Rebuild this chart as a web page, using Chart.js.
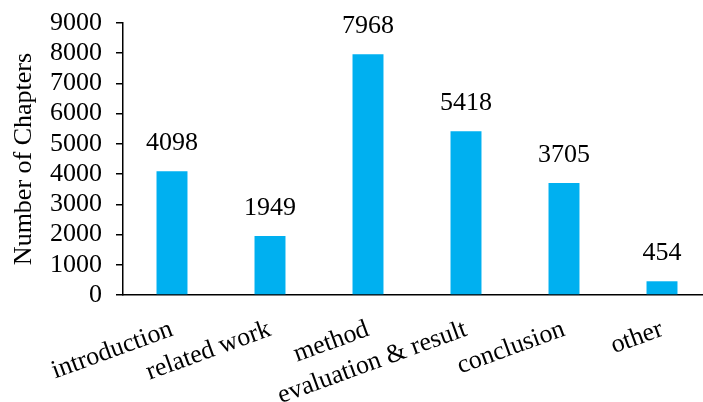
<!DOCTYPE html>
<html>
<head>
<meta charset="utf-8">
<script src="https://cdn.jsdelivr.net/npm/chart.js@4"></script>
<style>
  html, body { margin: 0; padding: 0; background: #fff; overflow: hidden; }
  #wrap { width: 711px; height: 402px; }
</style>
</head>
<body>
<div id="wrap"><canvas id="chapterChart"></canvas></div>
<script>
const categories = ['introduction', 'related work', 'method', 'evaluation & result', 'conclusion', 'other'];
const chapterCounts = [4098, 1949, 7968, 5418, 3705, 454];
const yTicks = [0, 1000, 2000, 3000, 4000, 5000, 6000, 7000, 8000, 9000];

const serif = "'Liberation Serif', 'Times New Roman', serif";

// draws the number above each bar
const valueLabels = {
    id: 'valueLabels',
    afterDatasetsDraw(chart) {
        const ctx = chart.ctx;
        const meta = chart.getDatasetMeta(0);
        ctx.save();
        ctx.font = '26px ' + serif;
        ctx.fillStyle = '#000';
        ctx.textAlign = 'center';
        ctx.textBaseline = 'alphabetic';
        meta.data.forEach((bar, i) => {
            ctx.fillText(String(chapterCounts[i]), bar.x, bar.y - 21);
        });
        ctx.restore();
    }
};

const ctx = document.getElementById('chapterChart').getContext('2d');
const chapterChart = new Chart(ctx, {
    type: 'bar',
    data: {
        labels: categories,
        datasets: [{
            data: chapterCounts,
            backgroundColor: '#00b0f0',
            barPercentage: 0.316,
            categoryPercentage: 1
        }]
    },
    options: {
        responsive: true,
        maintainAspectRatio: false,
        animation: false,
        layout: { padding: { top: 23, right: 0, left: 0, bottom: 0 } },
        plugins: {
            legend: { display: false },
            tooltip: { enabled: false }
        },
        scales: {
            x: {
                grid: { display: false },
                border: { display: true, color: '#000', width: 1.5 },
                ticks: {
                    color: '#000',
                    font: { family: serif, size: 26 },
                    minRotation: 20,
                    maxRotation: 20,
                    autoSkip: false,
                    padding: 11
                },
                afterFit(scale) { scale.height = 107; }
            },
            y: {
                min: 0,
                max: 9000,
                afterBuildTicks(scale) { scale.ticks = yTicks.map(v => ({ value: v })); },
                grid: { drawOnChartArea: false, drawTicks: true, tickLength: 7, color: '#000', lineWidth: 1.5 },
                border: { display: true, color: '#000', width: 1.5 },
                ticks: {
                    color: '#000',
                    font: { family: serif, size: 26 },
                    padding: 14,
                    autoSkip: false,
                    callback: v => String(v)
                },
                title: {
                    display: true,
                    text: 'Number of Chapters',
                    color: '#000',
                    font: { family: serif, size: 26 },
                    padding: { top: 9, bottom: 0 }
                },
                afterFit(scale) {
                    scale.width = 123;
                    scale.paddingTop = 0;
                    scale.paddingBottom = 0;
                }
            }
        }
    },
    plugins: [valueLabels]
});
</script>
</body>
</html>
